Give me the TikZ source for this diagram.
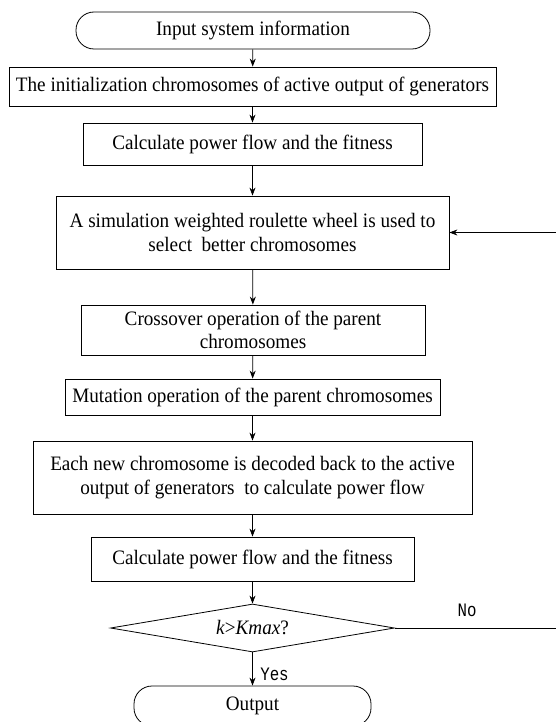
\documentclass[tikz,border=0pt]{standalone}
\usepackage{fontspec}
\setmainfont{Liberation Serif}[FakeStretch=0.935]
\newfontfamily\labfont{Liberation Mono}[FakeStretch=0.83]
\usetikzlibrary{shapes.geometric,arrows.meta}
\begin{document}
\begin{tikzpicture}[x=1pt,y=-1pt,
  base/.style={draw,line width=0.8pt,inner sep=0pt,align=center,font=\fontsize{20.5}{23.5}\selectfont},
  procbox/.style={base,rectangle},
  termbox/.style={base,rectangle,rounded corners=18pt},
  decbox/.style={base,diamond,aspect=5.9},
  arr/.style={line width=0.8pt,-{Stealth[length=8pt,width=6pt]}},
  lab/.style={font=\labfont\fontsize{19}{21}\selectfont,inner sep=0pt}]
\useasboundingbox (0,0) rectangle (555,722);
\node[termbox,minimum width=354pt,minimum height=37pt] (inp) at (253,30.5) {Input system information};
\node[procbox,minimum width=487pt,minimum height=39pt] (b2) at (252.5,86.5) {The initialization chromosomes of active output of generators};
\node[procbox,minimum width=339pt,minimum height=42pt] (b3) at (252.5,144) {Calculate power flow and the fitness};
\node[procbox,minimum width=393pt,minimum height=73pt] (b4) at (252.5,232.5) {A simulation weighted roulette wheel is used to\\select\ \ better chromosomes};
\node[procbox,minimum width=344pt,minimum height=50pt] (b5) at (253,330) {Crossover operation of the parent\\chromosomes};
\node[procbox,minimum width=375pt,minimum height=36pt] (b6) at (252.5,397) {Mutation operation of the parent chromosomes};
\node[procbox,minimum width=439pt,minimum height=73pt] (b7) at (252.5,477.5) {Each new chromosome is decoded back to the active\\output of generators\ \ to calculate power flow};
\node[procbox,minimum width=323pt,minimum height=44pt] (b8) at (252.5,559) {Calculate power flow and the fitness};
\node[decbox,minimum width=284pt,minimum height=48pt] (dec) at (252.5,628) {\textit{k}>\textit{Kmax}?};
\node[termbox,minimum width=237pt,minimum height=40pt] (out) at (252.5,706) {Output};
\coordinate (loopc) at (558,628);
\draw[arr] (inp) -- (b2);
\draw[arr] (b2) -- (b3);
\draw[arr] (b3) -- (b4);
\draw[arr] (b4) -- (b5);
\draw[arr] (b5) -- (b6);
\draw[arr] (b6) -- (b7);
\draw[arr] (b7) -- (b8);
\draw[arr] (b8) -- (dec);
\draw[arr] (dec) -- (out);
\node[lab] (yes) at (274.5,674) {Yes};
\draw[arr] (dec.east) -- (loopc) |- (b4.east);
\node[lab] (no) at (467,610) {No};
\end{tikzpicture}
\end{document}
